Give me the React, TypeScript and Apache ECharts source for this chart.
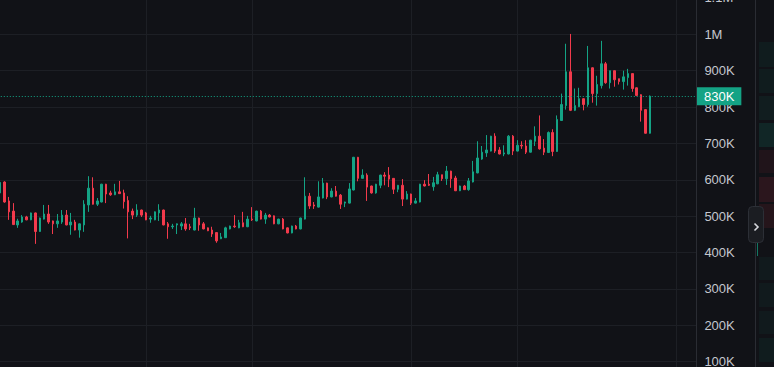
import React, { useEffect, useRef } from "react";
import * as echarts from "echarts";

// OHLC candles in thousands: [open, close, low, high]
const ohlcK: number[][] = [
  [564, 593, 560, 596], [594, 539, 537, 596], [542, 512, 490, 553], [514, 477, 476, 536], [476, 487, 468, 493],
  [484, 498, 482, 503], [498, 490, 489, 501], [490, 509, 489, 510], [509, 458, 424, 510], [458, 495, 457, 496],
  [492, 506, 491, 531], [506, 484, 479, 531], [487, 479, 451, 488], [479, 487, 468, 506], [484, 503, 479, 517],
  [503, 476, 475, 517], [476, 484, 449, 509], [484, 462, 461, 490], [462, 479, 441, 480], [476, 533, 457, 544],
  [531, 577, 512, 610], [577, 533, 532, 607], [533, 542, 528, 550], [539, 588, 538, 589], [588, 561, 536, 589],
  [564, 559, 556, 570], [559, 567, 558, 589], [567, 562, 561, 597], [564, 540, 521, 573], [543, 512, 439, 555],
  [514, 503, 492, 521], [503, 517, 498, 533], [517, 503, 498, 518], [509, 490, 489, 512], [492, 495, 482, 501],
  [490, 512, 489, 513], [509, 517, 487, 533], [517, 476, 475, 518], [479, 471, 438, 484], [471, 473, 465, 479],
  [476, 479, 451, 480], [473, 479, 462, 484], [479, 465, 460, 495], [471, 468, 462, 479], [462, 495, 461, 523],
  [495, 476, 460, 496], [479, 465, 464, 484], [468, 460, 459, 469], [462, 451, 443, 471], [455, 432, 427, 456],
  [438, 443, 437, 454], [441, 468, 440, 471], [465, 473, 464, 474], [473, 471, 468, 503], [468, 482, 467, 490],
  [482, 471, 470, 512], [471, 492, 470, 501], [492, 490, 487, 525], [487, 514, 486, 515], [514, 492, 491, 517],
  [492, 503, 479, 509], [503, 498, 497, 506], [501, 479, 478, 502], [479, 492, 478, 493], [492, 465, 464, 495],
  [468, 454, 453, 469], [454, 473, 453, 474], [473, 465, 464, 476], [465, 495, 464, 496], [492, 555, 491, 607],
  [555, 528, 520, 564], [531, 528, 520, 539], [525, 553, 524, 596], [550, 591, 549, 605],
  [591, 553, 547, 592], [553, 569, 552, 577], [569, 555, 554, 583], [558, 533, 520, 561], [536, 539, 525, 540],
  [536, 575, 535, 591], [572, 662, 571, 663], [662, 604, 596, 663], [604, 613, 604, 629], [613, 580, 542, 618],
  [583, 564, 562, 584], [564, 588, 562, 589], [585, 613, 577, 614], [613, 610, 585, 621], [613, 602, 580, 635],
  [604, 574, 561, 605], [574, 585, 566, 586], [585, 547, 528, 602], [547, 561, 546, 569], [561, 536, 531, 562],
  [536, 542, 535, 550], [539, 588, 538, 589], [588, 583, 582, 599], [588, 585, 583, 616],
  [581, 592, 570, 608], [589, 614, 588, 622], [614, 603, 597, 614], [603, 624, 586, 638], [624, 603, 578, 625],
  [605, 570, 569, 611], [570, 583, 569, 584], [583, 573, 572, 586], [573, 597, 570, 605], [594, 622, 593, 652],
  [619, 660, 618, 706], [657, 676, 655, 693], [674, 682, 663, 723], [679, 720, 678, 721], [720, 679, 674, 728],
  [682, 671, 670, 690], [671, 674, 665, 695], [671, 720, 670, 723], [720, 679, 668, 723], [679, 695, 678, 709],
  [695, 693, 685, 706], [693, 676, 671, 709], [676, 709, 675, 710], [706, 720, 693, 747], [720, 685, 683, 777],
  [687, 676, 668, 712],
  [675, 730, 674, 733], [730, 678, 665, 739], [678, 766, 677, 777], [763, 807, 762, 837], [804, 897, 793, 974],
  [897, 791, 789, 1001], [791, 804, 789, 851], [801, 823, 800, 853], [823, 807, 791, 824], [807, 908, 801, 968],
  [908, 837, 812, 909], [837, 862, 804, 886], [859, 919, 851, 982], [919, 867, 864, 924], [867, 900, 851, 900],
  [900, 875, 856, 900], [878, 870, 862, 878], [870, 883, 848, 900], [881, 892, 859, 905], [892, 851, 842, 892],
  [853, 832, 830, 854], [834, 791, 760, 835], [793, 728, 727, 794], [728, 830, 727, 832],
];

const emptySlots = 10; // blank bars to the right of the last candle
const categories: string[] = Array.from({ length: ohlcK.length + emptySlots }, (_, i) => `t${i + 1}`);
const gridLineIdx: number[] = [33, 57, 93, 117, 153];
const yTicks = { min: 0, max: 1100000, interval: 100000 };

const UP = "#14a385";
const DOWN = "#f23a4c";
const BG = "#111217";
const GRID = "#1d1f25";
const FONT = '"Liberation Sans", Arial, sans-serif';

const fmt = (v: number) => {
  if (v >= 1000000) return `${+(v / 1000000).toFixed(2)}M`;
  if (v <= 0) return "";
  return `${Math.round(v / 1000)}K`;
};

export default function App() {
  const ref = useRef<HTMLDivElement>(null);
  useEffect(() => {
    if (!ref.current) return;
    const chart = echarts.init(ref.current, undefined, { renderer: "svg" });
    const data = ohlcK.map(([o, c, l, h]) => [o * 1000, c * 1000, l * 1000, h * 1000]);
    const last = data[data.length - 1][1];
    const rows: [number, number, string][] = [
      [42, 67, "rgba(20,163,133,0.07)"], [69, 93, "rgba(20,163,133,0.07)"], [96, 120, "rgba(20,163,133,0.08)"],
      [123, 147, "rgba(20,163,133,0.14)"], [150, 173, "rgba(242,58,76,0.07)"], [177, 202, "rgba(242,58,76,0.12)"],
      [204, 228, "rgba(242,58,76,0.09)"], [257, 280, "rgba(20,163,133,0.06)"], [283, 307, "rgba(20,163,133,0.06)"],
      [311, 334, "rgba(20,163,133,0.06)"], [338, 362, "rgba(20,163,133,0.07)"],
    ];
    chart.setOption({
      animation: false,
      backgroundColor: BG,
      grid: {
        left: -2.21,
        top: -2.08,
        width: 698.6,
        height: 400.2,
        containLabel: false,
        outerBoundsMode: "none",
      },
      xAxis: {
        type: "category",
        data: categories,
        boundaryGap: true,
        axisLine: { show: false },
        axisTick: { show: false },
        axisLabel: { show: false },
        splitLine: { show: false },
      },
      yAxis: {
        type: "value",
        position: "right",
        min: yTicks.min,
        max: yTicks.max,
        interval: yTicks.interval,
        axisLine: { show: true, lineStyle: { color: "#2a2c33", width: 1 } },
        axisTick: { show: false },
        axisLabel: { color: "#c4c7ce", fontSize: 13, fontFamily: FONT, margin: 8, formatter: fmt },
        splitLine: { show: true, lineStyle: { color: GRID, width: 1 } },
      },
      graphic: [
        { type: "line", shape: { x1: 755.5, y1: 0, x2: 755.5, y2: 367 }, style: { stroke: "#2a2c33", lineWidth: 1 }, z: 10 },
        ...rows.map(([y0, y1, col]) => ({
          type: "rect", shape: { x: 759, y: y0, width: 15, height: y1 - y0 }, style: { fill: col }, z: 10,
        })),
        { type: "line", shape: { x1: 757.5, y1: 233, x2: 757.5, y2: 256 }, style: { stroke: UP, lineWidth: 1, opacity: 0.7 }, z: 10 },
        { type: "rect", shape: { x: 748.5, y: 206.5, width: 15, height: 36, r: 4 }, style: { fill: "#1b1d22", stroke: "#2c2f36", lineWidth: 1 }, z: 11 },
        { type: "polyline", shape: { points: [[754.5, 223.5], [758, 227], [754.5, 230.5]] }, style: { stroke: "#d6d8dd", lineWidth: 1.6, fill: "none" }, z: 12 },
      ],
      series: [
        {
          type: "line",
          data: [],
          z: 1,
          markLine: {
            silent: true,
            symbol: ["none", "none"],
            z: 1,
            label: { show: false },
            lineStyle: { color: GRID, width: 1, type: "solid" },
            data: gridLineIdx.map((i) => ({ xAxis: categories[i] })),
          },
        },
        {
          type: "candlestick",
          data,
          z: 3,
          barWidth: 2,
          itemStyle: { color: UP, color0: DOWN, borderColor: UP, borderColor0: DOWN, borderWidth: 1 },
          markLine: {
            silent: true,
            symbol: ["none", "none"],
            z: 6,
            lineStyle: { color: UP, width: 1, type: [1, 2], opacity: 1 },
            label: {
              show: true,
              position: "end",
              distance: 0.6,
              formatter: (p: any) => fmt(p.value),
              color: "#ffffff",
              backgroundColor: UP,
              padding: [2, 7, 2, 7],
              fontSize: 13,
              lineHeight: 14,
              fontFamily: FONT,
            },
            data: [{ yAxis: last }],
          },
        },
      ],
    });
    return () => chart.dispose();
  }, []);
  return (
    <div
      ref={ref}
      style={{ position: "fixed", left: 0, top: 0, width: 774, height: 367, background: BG }}
    />
  );
}
